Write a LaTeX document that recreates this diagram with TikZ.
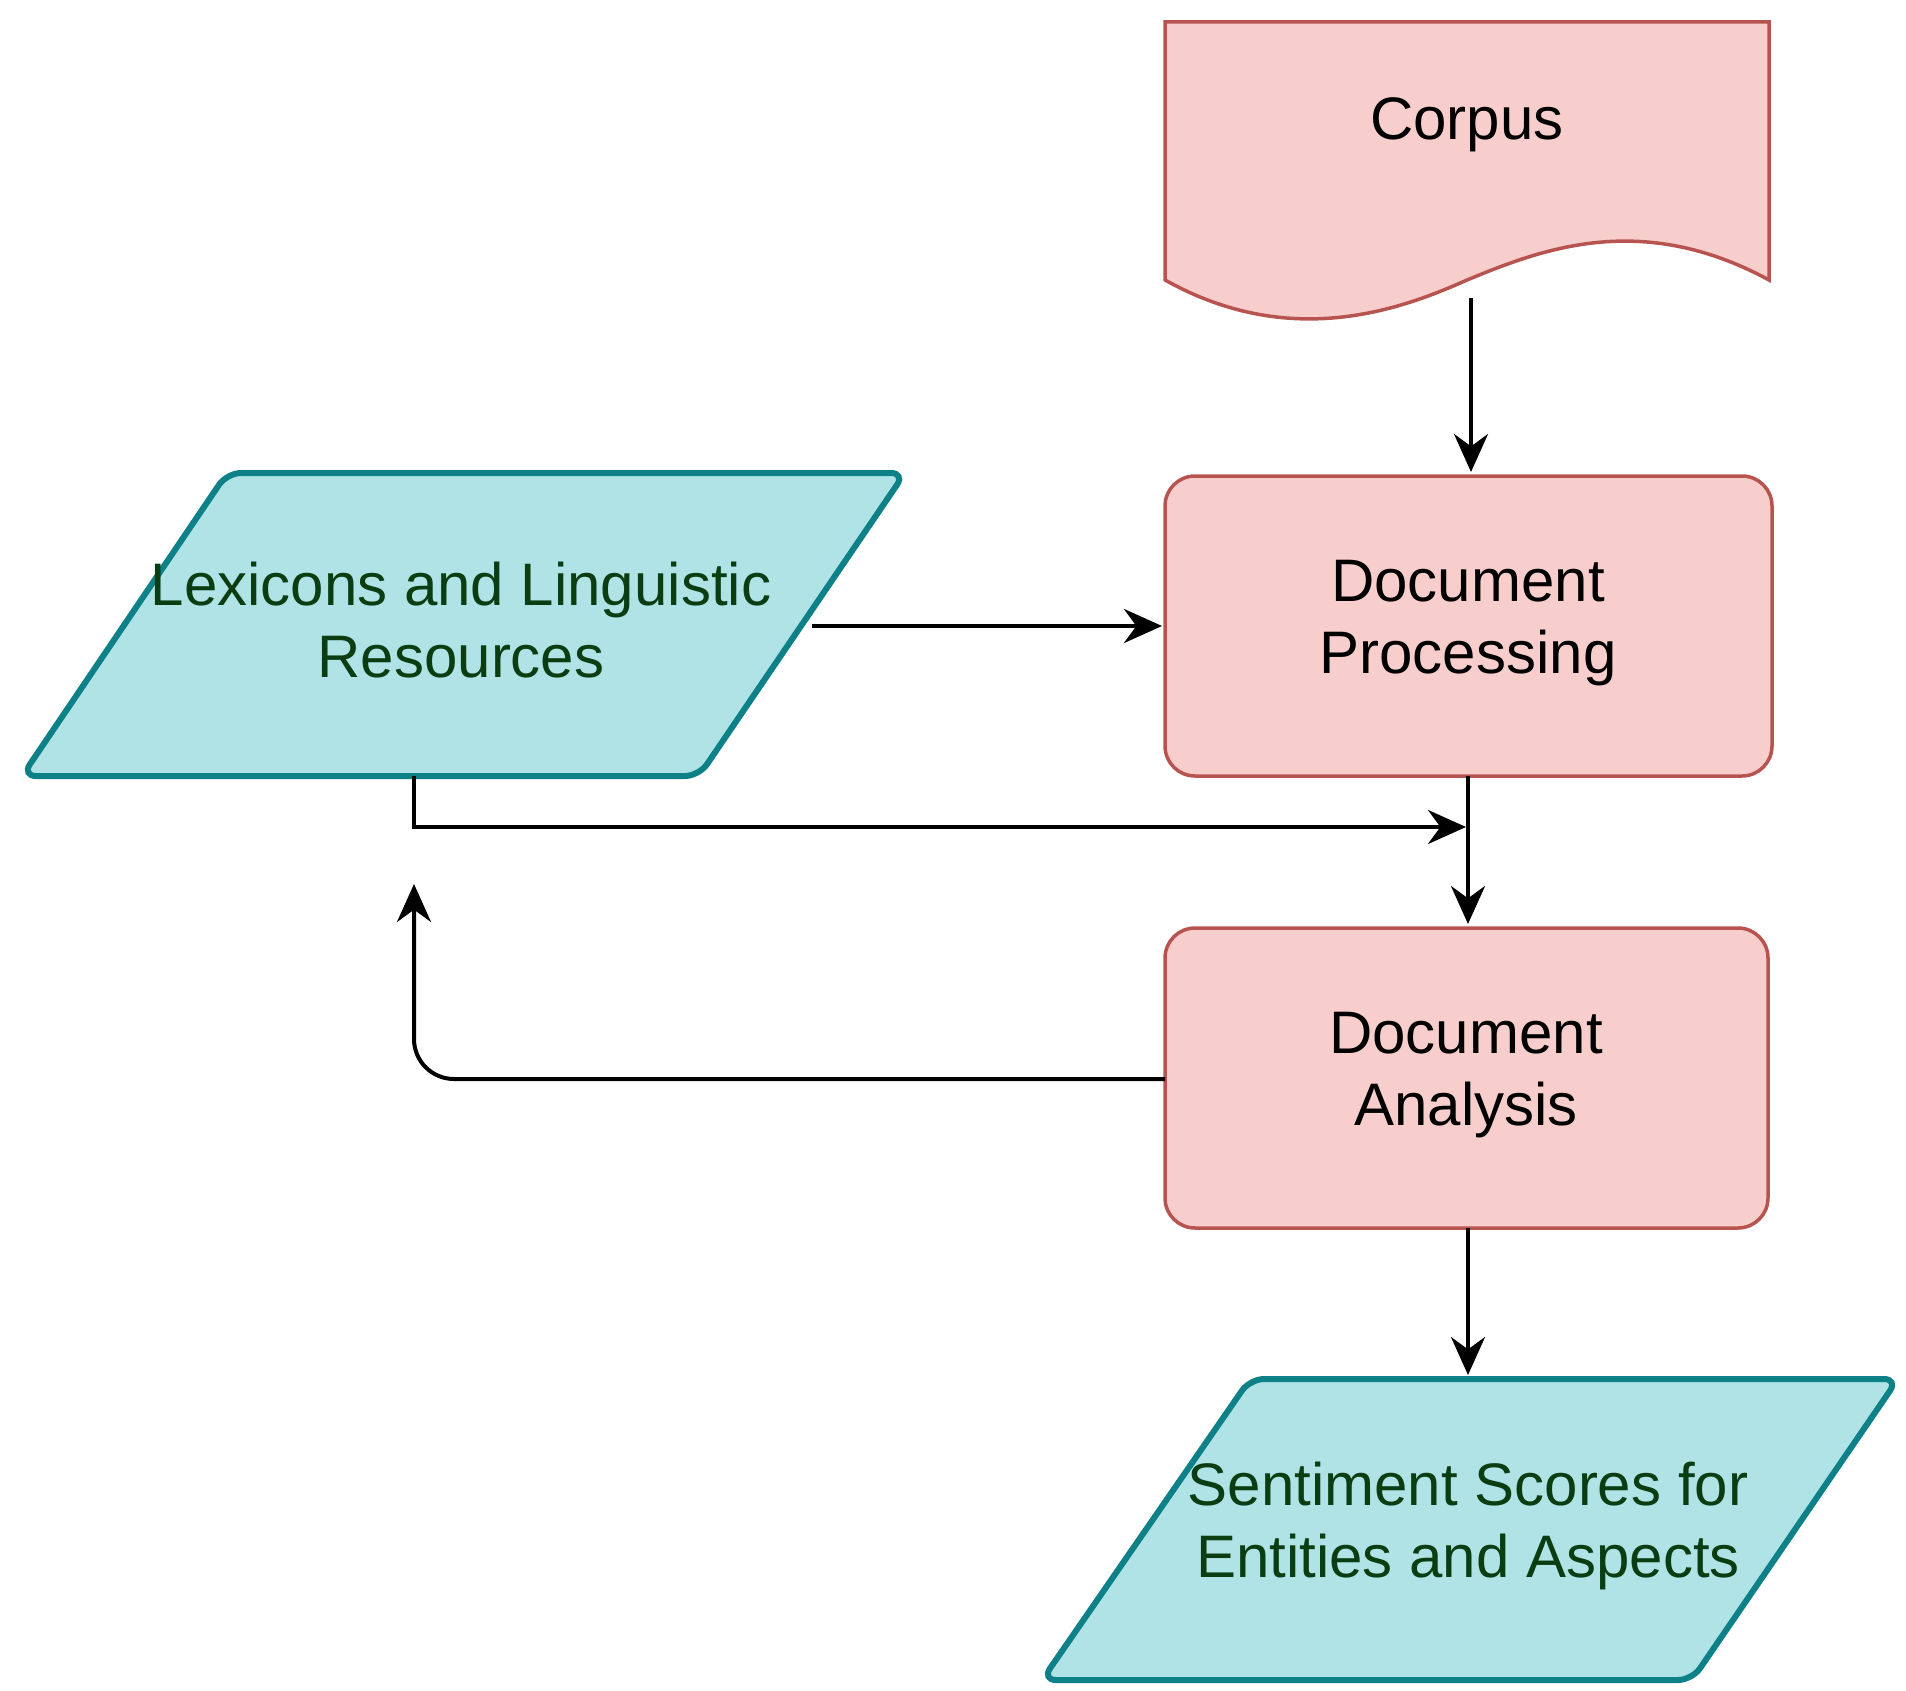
\documentclass[tikz,border=0pt]{standalone}
\usepackage{fontspec}
\setmainfont{Liberation Sans}
\usetikzlibrary{arrows.meta}
\definecolor{pinkf}{HTML}{F8CECC}
\definecolor{pinkd}{HTML}{B85450}
\definecolor{cyanf}{HTML}{B0E3E6}
\definecolor{cyand}{HTML}{0E8088}
\definecolor{tgreen}{HTML}{0B3D12}
\begin{document}
\begin{tikzpicture}[x=1pt,y=-1pt,
  txt/.style={align=center,font=\fontsize{60}{72}\selectfont},
  box/.style={draw=pinkd,fill=pinkf,line width=3.5pt,rounded corners=30pt},
  para/.style={draw=cyand,fill=cyanf,line width=6pt,rounded corners=14pt},
  conn/.style={line width=4pt,-{Stealth[length=38pt,width=34pt]}},
  line/.style={line width=4pt}]
\useasboundingbox (0,0) rectangle (1906,1691);
% Corpus
\draw[draw=pinkd,fill=pinkf,line width=3.5pt] (1165,22) -- (1769,22) -- (1769,280)
  .. controls (1640,210) and (1540,250) .. (1467,280)
  .. controls (1400,310) and (1290,350) .. (1165,280) -- cycle;
\node[txt] (corpus) at (1467,125) {Corpus};
\coordinate (corpusb) at (1471,298);
% boxes
\draw[box] (1165,476) rectangle (1772,776);
\node[txt] (dp) at (1468,623) {Document\\Processing};
\draw[box] (1165,928) rectangle (1768,1228);
\node[txt] (da) at (1466,1075) {Document\\Analysis};
% parallelograms
\draw[para] (227,473) -- (905,473) -- (699,776) -- (22,776) -- cycle;
\node[txt,text=tgreen] (lex) at (461,620) {Lexicons and Linguistic\\Resources};
\draw[para] (1250,1379) -- (1898,1379) -- (1692,1680) -- (1042,1680) -- cycle;
\node[txt,text=tgreen] (sent) at (1468,1526) {Sentiment Scores for\\Entities and Aspects};
% connectors
\coordinate (dpt) at (1471,472);
\draw[conn] (corpusb) -- (dpt);
\coordinate (lexr) at (812,626);
\coordinate (dpl) at (1162,626);
\draw[conn] (lexr) -- (dpl);
\coordinate (dpb) at (1468,776);
\coordinate (dat) at (1468,924);
\draw[conn] (dpb) -- (dat);
\coordinate (dab) at (1468,1228);
\coordinate (st) at (1468,1375);
\draw[conn] (dab) -- (st);
\coordinate (lexb) at (414,776);
\coordinate (mid) at (1466,827);
\draw[conn] (lexb) -- (414,827) -- (mid);
\coordinate (dal) at (1165,1079);
\coordinate (up) at (414,884);
\draw[conn,rounded corners=40pt] (dal) -- (414,1079) -- (up);
\end{tikzpicture}
\end{document}
